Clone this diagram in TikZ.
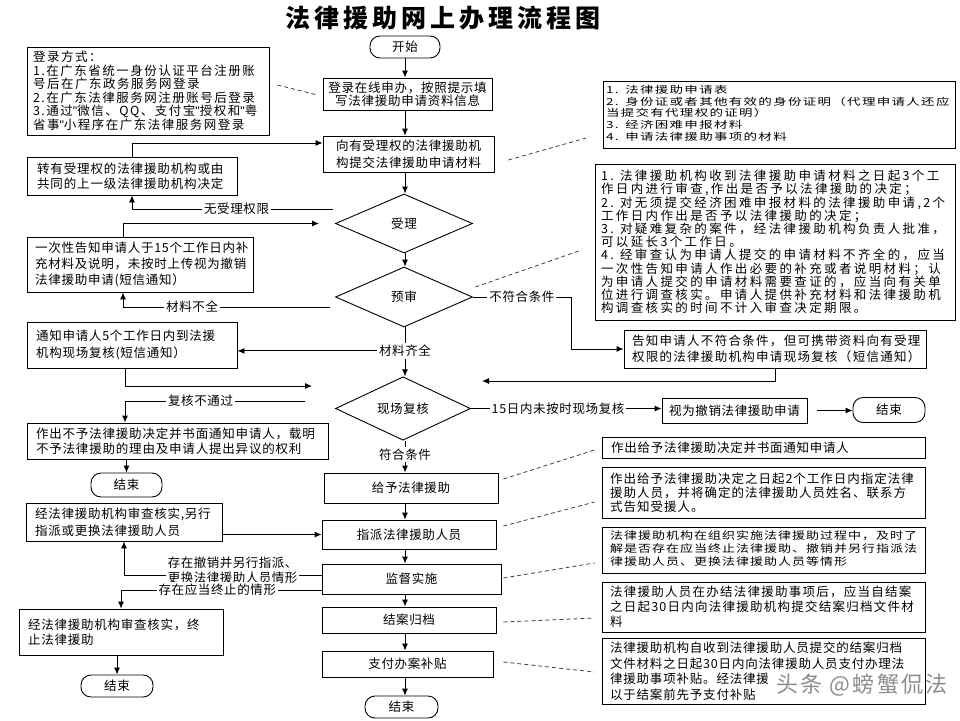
\documentclass[tikz,border=0pt]{standalone}
\usepackage{fontspec}
\usepackage{graphicx}
\setmainfont{Noto Sans CJK SC}
\newfontfamily\lat{Liberation Sans}
\usetikzlibrary{arrows.meta,shapes.geometric}
\newcommand\fs[3]{\fontsize{#1}{#2}\selectfont\addfontfeature{LetterSpace=#3}}
\newcommand\tb[1]{\begin{tabular}{@{}l@{}}#1\end{tabular}}
\newcommand\qt{{\lat"}}
\begin{document}
\begin{tikzpicture}[x=1pt,y=-1pt,
  bx/.style={draw,line width=0.9pt,inner ysep=0pt,align=left},
  cb/.style={draw,line width=0.9pt,inner sep=0pt,align=center,font=\fs{12.5}{15}{5}},
  term/.style={draw,line width=0.9pt,inner sep=0pt,rounded corners=10pt,font=\fs{12.5}{15}{5}},
  dia/.style={draw,diamond,line width=0.9pt,inner sep=0pt,font=\fs{12.5}{15}{5}},
  lab/.style={fill=white,inner sep=2pt,font=\fs{12.5}{15}{5}},
  arr/.style={line width=0.9pt,-{Latex[length=7pt,width=6pt]}},
  dsh/.style={line width=0.8pt,black!75,dash pattern=on 4pt off 3pt}]
\fill[white] (0,0) rectangle (960,720);
\useasboundingbox (0,0) rectangle (960,720);
\coordinate (ax) at (405,0);
\coordinate (cX) at (571,0);

\node[font=\bfseries\fs{25}{28}{16}] (title) at (443,18) {法律援助网上办理流程图};

% main column
\node[term,minimum width=70pt,minimum height=22pt] (st) at (405,47) {开始};
\node[cb,minimum width=169pt,minimum height=32pt,font=\fs{12.5}{13.5}{6}] (b1) at (407.5,94) {登录在线申办，按照提示填\\写法律援助申请资料信息};
\node[cb,minimum width=171pt,minimum height=36pt,font=\fs{12.5}{16.5}{6}] (b2) at (408.5,154) {向有受理权的法律援助机\\构提交法律援助申请材料};
\node[dia,minimum width=137pt,minimum height=59pt] (d1) at (404,223.5) {受理};
\node[dia,minimum width=137pt,minimum height=60pt] (d2) at (404,297) {预审};
\node[dia,minimum width=135pt,minimum height=59pt] (d3) at (403,408.5) {现场复核};
\node[cb,minimum width=174pt,minimum height=30pt] (m1) at (411,488) {给予法律援助};
\node[cb,minimum width=174pt,minimum height=29pt] (m2) at (409,534.5) {指派法律援助人员};
\node[cb,minimum width=179pt,minimum height=30pt] (m3) at (411.5,579) {监督实施};
\node[cb,minimum width=174pt,minimum height=26pt] (m4) at (409,620) {结案归档};
\node[cb,minimum width=171pt,minimum height=26pt] (m5) at (407.5,664) {支付办案补贴};
\node[term,minimum width=73pt,minimum height=22pt] (e3) at (401.5,707) {结束};

% left column
\node[bx,inner xsep=6pt,text width=230pt,minimum height=88pt,font=\fs{12.5}{13.5}{12}] (L1) at (148,91) {登录方式：\\1.在广东省统一身份认证平台注册账\\号后在广东政务服务网登录\\2.在广东法律服务网注册账号后登录\\3.通过\qt 微信、QQ、支付宝\qt 授权和\qt 粤\\省事\qt 小程序在广东法律服务网登录};
\node[bx,inner xsep=10pt,text width=190pt,minimum height=38pt,font=\fs{12.5}{15}{7}] (L2) at (132,176) {转有受理权的法律援助机构或由\\共同的上一级法律援助机构决定};
\node[bx,inner xsep=8pt,text width=210pt,minimum height=55pt,font=\fs{12.5}{16}{6}] (L3) at (140,264.5) {一次性告知申请人于15个工作日内补\\充材料及说明，未按时上传视为撤销\\法律援助申请(短信通知）};
\node[bx,inner xsep=9pt,text width=192pt,minimum height=46pt,font=\fs{12.5}{17}{6}] (L4) at (132,345) {通知申请人5个工作日内到法援\\机构现场复核(短信通知）};
\node[bx,inner xsep=9pt,text width=283pt,minimum height=36pt,font=\fs{12.5}{15}{6.5}] (L5) at (177.5,441) {作出不予法律援助决定并书面通知申请人，载明\\不予法律援助的理由及申请人提出异议的权利};
\node[term,minimum width=71pt,minimum height=24pt] (e1) at (126.5,485) {结束};
\node[bx,inner xsep=9pt,text width=178pt,minimum height=38pt,font=\fs{12.5}{16.5}{6}] (L6) at (124,522) {经法律援助机构审查核实,另行\\指派或更换法律援助人员};
\node[bx,inner xsep=9pt,text width=186pt,minimum height=46pt,font=\fs{12.5}{15}{6}] (L7) at (121,632) {经法律援助机构审查核实，终\\止法律援助};
\node[term,minimum width=72pt,minimum height=22pt] (e2) at (117,686) {结束};

% right column
\node[bx,inner xsep=3pt,text width=346pt,minimum height=67pt,font=\fs{13.5}{16.25}{9.6}] (R1) at (779,114.5) {\scalebox{1}[0.72]{\tb{1. 法律援助申请表\\2. 身份证或者其他有效的身份证明（代理申请人还应\\当提交有代理权的证明）\\3. 经济困难申报材料\\4. 申请法律援助事项的材料}}};
\node[bx,inner xsep=6pt,text width=348pt,minimum height=156pt,font=\fs{12.5}{13.2}{19}] (R2) at (775,242) {1. 法律援助机构收到法律援助申请材料之日起3个工\\作日内进行审查,作出是否予以法律援助的决定；\\2. 对无须提交经济困难申报材料的法律援助申请,2个\\工作日内作出是否予以法律援助的决定；\\3. 对疑难复杂的案件，经法律援助机构负责人批准，\\可以延长3个工作日。\\4. 经审查认为申请人提交的申请材料不齐全的，应当\\一次性告知申请人作出必要的补充或者说明材料；认\\为申请人提交的申请材料需要查证的，应当向有关单\\位进行调查核实。申请人提供补充材料和法律援助机\\构调查核实的时间不计入审查决定期限。};
\node[bx,inner xsep=8pt,text width=286pt,minimum height=38pt,font=\fs{12.5}{16}{10.4}] (Rg) at (775,349) {告知申请人不符合条件，但可携带资料向有受理\\权限的法律援助机构申请现场复核（短信通知）};
\node[cb,minimum width=145pt,minimum height=25pt] (Rv) at (734.5,410.5) {视为撤销法律援助申请};
\node[term,minimum width=72pt,minimum height=25pt] (e4) at (889,410) {结束};
\node[bx,inner xsep=9pt,text width=305pt,minimum height=21pt,font=\fs{12.5}{15}{6}] (R3) at (763.5,447.5) {作出给予法律援助决定并书面通知申请人};
\node[bx,inner xsep=8pt,text width=307pt,minimum height=51pt,font=\fs{12.5}{14.2}{8}] (R4) at (763.5,492.5) {作出给予法律援助决定之日起2个工作日内指定法律\\援助人员，并将确定的法律援助人员姓名、联系方\\式告知受援人。};
\node[bx,inner xsep=8pt,text width=307pt,minimum height=46pt,font=\fs{13}{15.6}{7.7}] (R5) at (763.5,550) {\scalebox{1}[0.8]{\tb{法律援助机构在组织实施法律援助过程中，及时了\\解是否存在应当终止法律援助、撤销并另行指派法\\律援助人员、更换法律援助人员等情形}}};
\node[bx,inner xsep=8pt,text width=307pt,minimum height=50pt,font=\fs{12.5}{15}{10}] (R6) at (763.5,607) {法律援助人员在办结法律援助事项后，应当自结案\\之日起30日内向法律援助机构提交结案归档文件材\\料};
\node[bx,inner xsep=8pt,text width=307pt,minimum height=66pt,font=\fs{12.5}{15.5}{6.5}] (R7) at (763.5,671) {法律援助机构自收到法律援助人员提交的结案归档\\文件材料之日起30日内向法律援助人员支付办理法\\律援助事项补贴。经法律援\\以于结案前先予支付补贴};

% main flow arrows
\draw[arr] (st.south -| ax) -- (b1.north -| ax);
\draw[arr] (b1.south -| ax) -- (b2.north -| ax);
\draw[arr] (b2.south -| ax) -- (d1.north -| ax);
\draw[arr] (d1.south -| ax) -- (d2.north -| ax);
\draw[arr] (d2.south -| ax) -- node[lab,pos=0.48] (qq) {材料齐全} (d3.north -| ax);
\draw[arr] (d3.south -| ax) -- node[lab,pos=0.43] {符合条件} (m1.north -| ax);
\draw[arr] (m1.south -| ax) -- (m2.north -| ax);
\draw[arr] (m2.south -| ax) -- (m3.north -| ax);
\draw[arr] (m3.south -| ax) -- (m4.north -| ax);
\draw[arr] (m4.south -| ax) -- (m5.north -| ax);
\draw[arr] (m5.south -| ax) -- (e3.north -| ax);

% side branches
\coordinate (c1) at (333,209);
\draw[arr] (c1) -| node[lab,pos=0.24] {无受理权限} (L2.south);
\draw[arr] (L2.north) |- ([yshift=11pt]b2.west);
\coordinate (c2) at (330,307);
\draw[arr] (c2) -| node[lab,pos=0.333] {材料不全} ([xshift=-17pt]L3.south);
\draw[arr] ([xshift=-17pt]L3.north) |- ([xshift=-16pt]d1.west);
\draw[arr] (d2.east) -- node[lab] {不符合条件} (d2.east -| cX) |- (Rg.west);
\coordinate (cR) at (482,381);
\draw[arr] (Rg.south) |- (cR);
\draw[arr] (qq.west) -- (qq.west -| L4.east);
\coordinate (cL) at (312,386);
\draw[arr] ([xshift=-7pt]L4.south) |- (cL);
\coordinate (c3) at (305,401);
\draw[arr] (c3) -| node[lab,pos=0.29] {复核不通过} ([xshift=-52.5pt]L5.north);
\draw[arr] (L5.south -| e1.north) -- (e1.north);
\draw[arr] (d3.east) -- node[lab,pos=0.457] {15日内未按时现场复核} (d3.east -| Rv.west);
\draw[arr,shorten <=10pt] (Rv.east) -- (Rv.east -| e4.west);
\draw[arr] (L6.east |- m2.west) -- (m2.west);
\draw[arr] ([yshift=4pt]m3.west) -| node[lab,pos=0.225,yshift=5pt,align=left,font=\fs{12.5}{15}{4}] {存在撤销并另行指派、\\更换法律援助人员情形} (L6.south);
\draw[arr] ([yshift=-11pt]m3.west) -| node[lab,pos=0.26] {存在应当终止的情形} (L7.north);
\draw[arr] (e2.north |- L7.south) -- (e2.north);

% dashed links
\draw[dsh] ([xshift=8pt,yshift=6pt]L1.east) -- ([xshift=-5pt,yshift=-1pt]b1.west);
\draw[dsh] ([xshift=14pt,yshift=-6pt]b2.east) -- ([xshift=-13pt,yshift=-22.5pt]R1.west);
\draw[dsh] ([xshift=2.5pt,yshift=10pt]d2.east) -- ([xshift=-13pt,yshift=-8pt]R2.west);
\draw[dsh] ([xshift=5pt,yshift=9pt]m1.east) -- ([xshift=-7pt,yshift=-2.5pt]R3.west);
\draw[dsh] ([xshift=7pt,yshift=8.5pt]m2.east) -- ([xshift=-7pt,yshift=-9.5pt]R4.west);
\draw[dsh] ([xshift=2pt,yshift=1pt]m3.east) -- ([xshift=-7pt,yshift=-13pt]R5.west);
\draw[dsh] ([xshift=7pt,yshift=-2pt]m4.east) -- ([xshift=-7pt,yshift=-11pt]R6.west);
\draw[dsh] ([xshift=10pt,yshift=2pt]m5.east) -- ([xshift=-7pt,yshift=-1pt]R7.west);

% watermark
\node[font=\fs{22}{24}{10},text=black!45] (wm) at (862,685) {头条 @螃蟹侃法};
\end{tikzpicture}
\end{document}
